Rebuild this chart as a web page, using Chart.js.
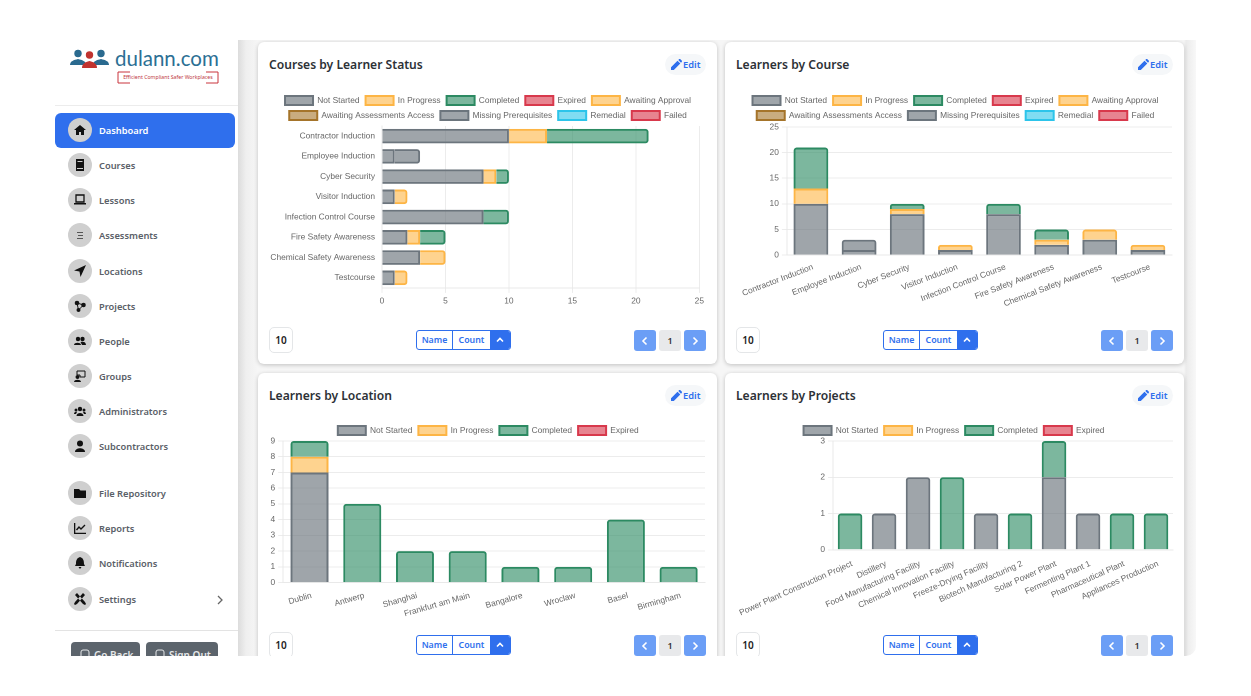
<!DOCTYPE html>
<html><head><meta charset="utf-8">
<script src="https://cdn.jsdelivr.net/npm/chart.js@4"></script>
<style>
*{box-sizing:border-box}
html,body{margin:0;padding:0;background:#fff;width:1251px;height:696px;overflow:hidden;font-family:"Noto Sans",sans-serif}
#app{position:absolute;left:0;top:40px;width:1196px;height:616px;overflow:hidden;border-radius:0 0 10px 0}
#side{position:absolute;left:0;top:0;width:238px;height:616px;background:#fff}
#main{position:absolute;left:238px;top:0;width:958px;height:616px;background:linear-gradient(90deg,#dcdcdc 0,#efefef 8px,#f6f6f6 20px,#f6f6f6 946px,#ebebeb 948px,#f8f8f8 958px);}
.abs{position:absolute}
.item{position:absolute;left:55px;width:180px;height:35px;border-radius:6px;color:#5a6068;font-size:9.3px;font-weight:600;line-height:35px;padding-left:44px}
.item.on{background:#2f6fed;color:#fff}
.circ{position:absolute;left:13px;top:5.5px;width:24px;height:24px;border-radius:50%;background:#cfcfcf;display:flex;align-items:center;justify-content:center}
.card{position:absolute;width:459px;background:#fff;border-radius:6px;box-shadow:0 1px 4px rgba(0,0,0,.22)}
.title{position:absolute;left:11px;top:14px;font-size:12.1px;font-weight:600;color:#2d3136;line-height:18px;white-space:nowrap}
.edit{position:absolute;left:407px;top:12px;width:41px;height:21px;border-radius:11px;background:#f5f7f9;color:#2f6fed;font-size:9.3px;font-weight:600;line-height:21px;padding-left:18px}
.edit svg{position:absolute;left:6px;top:5px}
.cv{position:absolute}
.num{position:absolute;left:11px;width:24px;height:26px;border:1px solid #e4e6e8;border-radius:5px;font-size:10px;font-weight:600;text-align:center;line-height:24px;color:#222;background:#fff}
.grp{position:absolute;left:158px;width:95px;height:20px;border:1px solid #2f6fed;border-radius:3px;display:flex;overflow:hidden;font-size:8.8px;font-weight:600;color:#2f6fed;line-height:18px;text-align:center;background:#fff}
.grp div{height:100%}
.pg{position:absolute;width:22px;height:21px;border-radius:3px;display:flex;align-items:center;justify-content:center;font-size:9px;font-weight:600;color:#333}
</style></head><body>
<div id="app">
 <div id="side"></div>
 <div id="main"></div>
</div>
<script>
// ---- data ----
const statusLabels = ["Not Started","In Progress","Completed","Expired","Awaiting Approval","Awaiting Assessments Access","Missing Prerequisites","Remedial","Failed"];
const shortStatusLabels = ["Not Started","In Progress","Completed","Expired"];
const courseNames = ["Contractor Induction","Employee Induction","Cyber Security","Visitor Induction","Infection Control Course","Fire Safety Awareness","Chemical Safety Awareness","Testcourse"];
const courseNotStarted = [10,1,8,1,8,2,3,1];
const courseInProgress = [3,0,1,1,0,1,2,1];
const courseCompleted = [8,0,1,0,2,2,0,0];
const courseExpired = [0,0,0,0,0,0,0,0];
const courseAwaitingApproval = [0,0,0,0,0,0,0,0];
const courseAwaitingAccess = [0,0,0,0,0,0,0,0];
const courseMissingPrereq = [0,2,0,0,0,0,0,0];
const courseRemedial = [0,0,0,0,0,0,0,0];
const courseFailed = [0,0,0,0,0,0,0,0];
const locationNames = ["Dublin","Antwerp","Shanghai","Frankfurt am Main","Bangalore","Wroclaw","Basel","Birmingham"];
const locationNotStarted = [7,0,0,0,0,0,0,0];
const locationInProgress = [1,0,0,0,0,0,0,0];
const locationCompleted = [1,5,2,2,1,1,4,1];
const locationExpired = [0,0,0,0,0,0,0,0];
const projectNames = ["Power Plant Construction Project","Distillery","Food Manufacturing Facility","Chemical Innovation Facility","Freeze-Drying Facility","Biotech Manufacturing 2","Solar Power Plant","Fermenting Plant 1","Pharmaceutical Plant","Appliances Production"];
const projectNotStarted = [0,1,2,0,1,0,2,1,0,0];
const projectInProgress = [0,0,0,0,0,0,0,0,0,0];
const projectCompleted = [1,0,0,2,0,1,1,0,1,1];
const projectExpired = [0,0,0,0,0,0,0,0,0,0];
const menuItems = ["Dashboard","Courses","Lessons","Assessments","Locations","Projects","People","Groups","Administrators","Subcontractors","File Repository","Reports","Notifications","Settings"];
const cardTitles = ["Courses by Learner Status","Learners by Course","Learners by Location","Learners by Projects"];

// ---- styles ----
const statusBorder = ["#6c757d","#fdb545","#2c8a62","#d8394c","#fdb545","#a5742a","#6c757d","#2cc4ea","#d8394c"];
const statusFill = ["rgba(108,117,125,.65)","rgba(253,181,69,.6)","rgba(44,138,98,.62)","rgba(216,57,76,.62)","rgba(253,181,69,.6)","rgba(165,116,42,.6)","rgba(108,117,125,.65)","rgba(44,196,234,.6)","rgba(216,57,76,.62)"];
const icons = {
 home:'<path d="M6 1 0 6h2v5h3V8h2v3h3V6h2z"/>',
 book:'<path d="M2 0h8v12H2z"/><path d="M3.5 2h5v1h-5z" fill="#cfcfcf"/><path d="M3 9h6v1H3z" fill="#cfcfcf"/>',
 lap:'<path d="M2 1h8v7H2z" fill="none" stroke="#111" stroke-width="1.3"/><path d="M0 9h12v1.5H0z"/>',
 list:'<path d="M3 3h6v1H3zM4 6h5v1H4zM3 9h6v1H3z" fill="#555"/>',
 arrow:'<path d="M12 0 0 5.5l5.5 1L6.5 12z"/>',
 proj:'<circle cx="3" cy="3" r="2.3"/><circle cx="9.5" cy="5" r="2.3"/><circle cx="4.5" cy="10" r="2"/><path d="M3 3l6.5 2-5 5z" fill="none" stroke="#111"/>',
 ppl:'<circle cx="4" cy="4" r="2.2"/><circle cx="8.5" cy="4" r="2.2"/><path d="M0 10c0-3 7-3 7 0zM6.5 7c3-1 5.5 0 5.5 3H8z"/>',
 grp:'<path d="M3 1h8v6H6V5H3z" fill="none" stroke="#111"/><circle cx="3.5" cy="7" r="2"/><path d="M0 12c0-3 7-3 7 0z"/>',
 adm:'<circle cx="6" cy="4" r="2.2"/><circle cx="2" cy="5" r="1.5"/><circle cx="10" cy="5" r="1.5"/><path d="M2.5 11c0-4 7-4 7 0zM0 9c0-2 2-2.5 3-2L2 9zM12 9c0-2-2-2.5-3-2l1 2z"/>',
 sub:'<circle cx="6" cy="3.5" r="3"/><path d="M1 12c0-5 10-5 10 0z"/>',
 fold:'<path d="M0 2h5l1.5 1.5H12V11H0z"/>',
 rep:'<path d="M0 1h1.3v9.7H12V12H0z"/><path d="M2.5 8 5 5l2 2 4-4" fill="none" stroke="#111" stroke-width="1.4"/>',
 bell:'<path d="M6 0c-3 1-4 3-4 7L1 9h10L10 7c0-4-1-6-4-7zM4.5 10h3L6 12z"/>',
 set:'<path d="M1 2 3 0l8 9 1 2-1 1-2-1zM11 2 9 0 1 9 0 11l1 1 2-1z"/>'
};
const iconKeys = ["home","book","lap","list","arrow","proj","ppl","grp","adm","sub","fold","rep","bell","set"];
const menuY = [130,165,200,235,271,306,341,376,411,446,493,528,563,599];

// ---- sidebar ----
const side = document.getElementById('side');
let h = '';
h += `<svg class="abs" style="left:69px;top:8px" width="42" height="20" viewBox="0 0 42 20">
<g fill="#2a6a8f"><circle cx="9" cy="5.5" r="3.7"/><path d="M1 17c0-4 4-5 8-6 4 1 8 2 8 6z"/><circle cx="32" cy="5.5" r="3.7"/><path d="M24 17c0-4 4-5 8-6 4 1 8 2 8 6z"/></g>
<g fill="#c0332f"><circle cx="20.5" cy="7" r="3.7"/><path d="M13 20c0-4 3-6 7.500-7 4.500 1 7.500 3 7.500 7z"/></g></svg>`;
h += `<div class="abs" style="left:115px;top:6px;font:400 20.5px Lato;color:#2c6f94;white-space:nowrap">dulann.com</div>`;
h += `<svg class="abs" style="left:117px;top:31px" width="102" height="13" viewBox="0 0 102 13"><path d="M13 1H1V12H13M89 1H101V12H89" fill="none" stroke="#c9343d" stroke-width="1"/></svg>`;
h += `<div class="abs" style="left:117px;top:31px;width:102px;height:13px;font:5.2px/13px 'Noto Sans';color:#c0393f;text-align:center;white-space:nowrap">Efficient Compliant Safer Workplaces</div>`;
h += `<div class="abs" style="left:55px;top:65px;width:183px;height:1px;background:#ececec"></div>`;
h += `<div class="abs" style="left:55px;top:590px;width:183px;height:1px;background:#e3e3e3"></div>`;
menuItems.forEach((t,i)=>{
  h += `<div class="item${i==0?' on':''}" style="top:${menuY[i]-40-17.5}px"><div class="circ"><svg width="12" height="12" viewBox="0 0 12 12" fill="#111">${icons[iconKeys[i]]}</svg></div>${t}</div>`;
});
h += `<svg class="abs" style="left:216px;top:555px" width="8" height="10" viewBox="0 0 8 10"><path d="M2 1l4 4-4 4" fill="none" stroke="#666" stroke-width="1.3"/></svg>`;
[["Go Back",71,69],["Sign Out",146,72]].forEach(([t,x,w])=>{
  h += `<div class="abs" style="left:${x}px;top:602px;width:${w}px;height:26px;background:#5c646c;border-radius:4px;color:#e6e8ea;font-size:10px;font-weight:600;line-height:26px;padding-left:23px;white-space:nowrap">${t}<svg class="abs" style="left:9px;top:7px" width="11" height="12" viewBox="0 0 11 12"><rect x="1" y="1" width="8" height="10" rx="2" fill="none" stroke="#e6e8ea"/></svg></div>`;
});
side.innerHTML = h;

// ---- cards ----
const main = document.getElementById('main');
const cardBox = [
 {x:20,y:2,h:322,ctl:288,cv:{l:10.5,t:48,w:438.5,h:219}},
 {x:487,y:2,h:322,ctl:288,cv:{l:7,t:48,w:445,h:226}},
 {x:20,y:333,h:330,ctl:262,cv:{l:7,t:47,w:445,h:207}},
 {x:487,y:333,h:330,ctl:262,cv:{l:3,t:47,w:449,h:207}}
];
const chev=(d,c)=>`<svg width="8" height="10" viewBox="0 0 8 10"><path d="${d}" fill="none" stroke="${c}" stroke-width="1.6"/></svg>`;
cardTitles.forEach((t,i)=>{
  const b = cardBox[i];
  const el = document.createElement('div');
  el.className='card';
  el.style.cssText=`left:${b.x}px;top:${b.y}px;height:${b.h}px`;
  el.innerHTML = `<div class="title">${t}</div>
  <div class="edit"><svg width="11" height="11" viewBox="0 0 11 11" fill="#2f6fed"><path d="M0 11V8.2L6.5 1.7l2.8 2.8L2.8 11zM7.3 1 8 .3c.4-.4 1-.4 1.4 0l1.3 1.3c.4.4.4 1 0 1.4L10 3.7z"/></svg>Edit</div>
  <canvas class="cv" id="c${i}" style="left:${b.cv.l}px;top:${b.cv.t}px;width:${b.cv.w}px;height:${b.cv.h}px"></canvas>
  <div class="num" style="top:${b.ctl-3}px">10</div>
  <div class="grp" style="top:${b.ctl}px"><div style="width:36px;border-right:1px solid #2f6fed">Name</div><div style="width:37px">Count</div><div style="flex:1;background:#2f6fed;display:flex;align-items:center;justify-content:center">${chev('M1 6.5l3-3 3 3','#fff')}</div></div>
  <div class="pg" style="left:376px;top:${b.ctl}px;background:#6b9ef6">${chev('M5.5 1.5l-3.5 3.5 3.5 3.5','#fff')}</div>
  <div class="pg" style="left:401px;top:${b.ctl}px;background:#e8e9eb">1</div>
  <div class="pg" style="left:426px;top:${b.ctl}px;background:#6b9ef6">${chev('M2.5 1.5l3.5 3.5-3.5 3.5','#fff')}</div>`;
  main.appendChild(el);
});

// ---- charts ----
const legendTweak = (dh,dx)=>({id:'legendTweak',beforeInit(chart){
  const L=chart.legend,f=L.fit,d=L.draw;
  L.fit=function(){f.call(this);this.height-=dh;};
  L.draw=function(){this.left+=dx;this.right+=dx;d.call(this);this.left-=dx;this.right-=dx;};
}});
const FONT = {family:'"Liberation Sans"',size:8.4};
function mk(labels, names, series, horizontal, id, pad, rot, tickPad, dh, dx){
  const datasets = series.map((d,i)=>({label:names[i],data:d,backgroundColor:statusFill[i],borderColor:statusBorder[i],borderWidth:2,borderRadius:3}));
  const cat = {stacked:true,grid:{display:false,drawTicks:false,color:'#e9e9e9'},border:{color:'#e9e9e9'},
    ticks:{color:'#666',font:FONT,autoSkip:false,padding:tickPad}};
  if(!horizontal){cat.ticks.minRotation=rot;cat.ticks.maxRotation=rot;cat.ticks.labelOffset=2;}
  else {cat.afterFit=s=>{s.width=113;};}
  const val = {stacked:true,beginAtZero:true,grid:{color:'#ececec',tickLength:5},border:{color:'#e9e9e9'},
    ticks:{color:'#666',font:FONT,precision:0,padding:3}};
  new Chart(document.getElementById(id),{type:'bar',plugins:[legendTweak(dh,dx)],data:{labels,datasets},options:{
    indexAxis:horizontal?'y':'x',responsive:false,animation:false,devicePixelRatio:2,
    layout:{padding:pad},
    plugins:{tooltip:{enabled:false},legend:{labels:{boxWidth:28,boxHeight:9,color:'#666',padding:6,font:FONT}}},
    scales:horizontal?{x:val,y:cat}:{x:cat,y:val}
  }});
}
[0,1,2,3].forEach(i=>{const c=document.getElementById('c'+i),b=cardBox[i].cv;c.width=b.w;c.height=b.h;});
const courseSeries=[courseNotStarted,courseInProgress,courseCompleted,courseExpired,courseAwaitingApproval,courseAwaitingAccess,courseMissingPrereq,courseRemedial,courseFailed];
mk(courseNames,statusLabels,courseSeries,true,'c0',{},0,7,4,0);
mk(courseNames,statusLabels,courseSeries,false,'c1',{left:4,right:5},21,7,3,1.5);
mk(locationNames,shortStatusLabels,[locationNotStarted,locationInProgress,locationCompleted,locationExpired],false,'c2',{left:2.5,right:5},16,8,4,2);
mk(projectNames,shortStatusLabels,[projectNotStarted,projectInProgress,projectCompleted,projectExpired],false,'c3',{right:4},24,9,4,3.5);
</script>
</body></html>
